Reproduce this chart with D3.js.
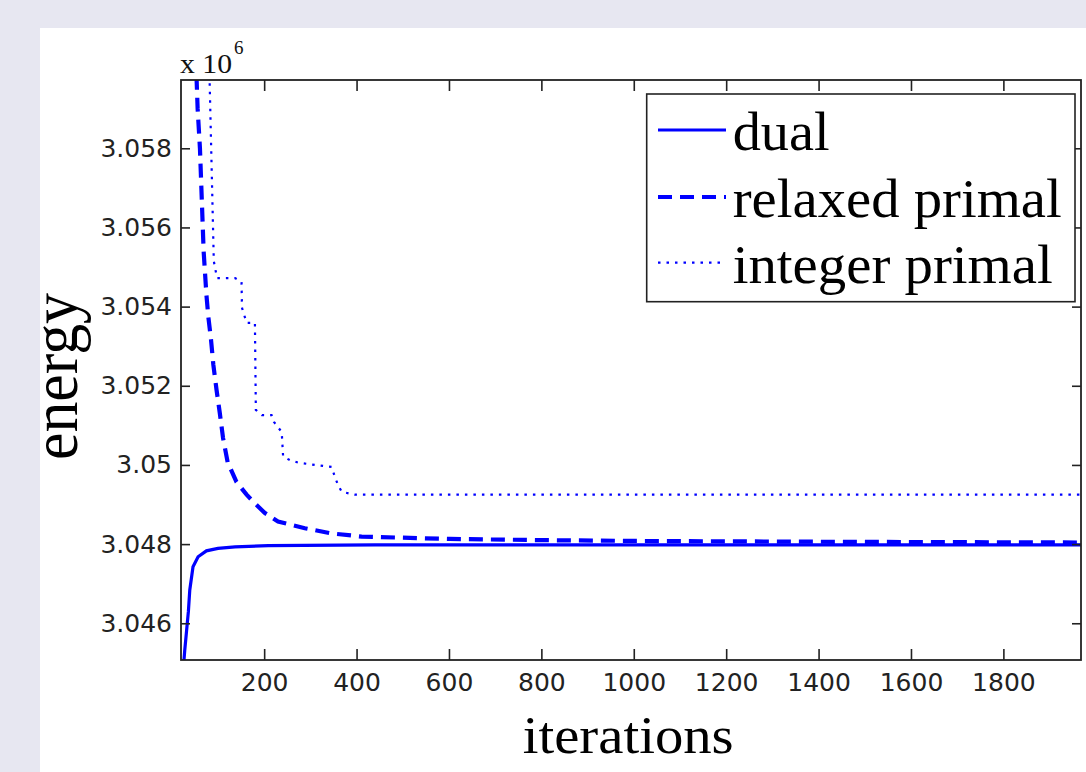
<!DOCTYPE html>
<html>
<head>
<meta charset="utf-8">
<script src="https://d3js.org/d3.v7.min.js"></script>
<style>
    html, body { margin: 0; padding: 0; background: #e7e7f1; }
    svg { display: block; }
</style>
</head>
<body>
<div id="chart"></div>
<script>
// values are in units of 1e6 (the axis shows "x 10^6")
const dualIter = [22, 24, 28, 32, 36, 39, 46, 57, 75, 100, 137, 209, 440, 1000, 1968];
const dualEnergy = [3.0440, 3.0447, 3.0453, 3.0458, 3.0463, 3.04684, 3.04743, 3.04768, 3.04783, 3.04789, 3.04793, 3.04796, 3.04798, 3.04798, 3.04798];

const relaxedIter = [50, 53, 56, 61, 65, 69, 75, 79, 85, 90, 97, 104, 111, 121, 140, 162, 180, 201, 230, 288, 346, 411, 602, 800, 1000, 1400, 1968];
const relaxedEnergy = [3.0615, 3.0600, 3.0590, 3.0580, 3.0567, 3.0554, 3.0543, 3.05376, 3.05316, 3.05253, 3.05189, 3.05131, 3.05068, 3.05007, 3.04957, 3.04925, 3.04903, 3.04879, 3.04857, 3.0484, 3.04827, 3.04819, 3.04813, 3.0481, 3.04808, 3.04806, 3.04804];

const integerIter = [80, 82, 91, 98, 137, 151, 152, 162, 180, 182, 195, 216, 221, 238, 241, 256, 273, 310, 346, 353, 360, 368, 396, 1968];
const integerEnergy = [3.0605, 3.05968, 3.05515, 3.05472, 3.05472, 3.05463, 3.05397, 3.05359, 3.05359, 3.05139, 3.05126, 3.05126, 3.05109, 3.05083, 3.05021, 3.05012, 3.05006, 3.05, 3.04995, 3.0497, 3.04949, 3.04932, 3.04925, 3.04925];

const xTicks = [200, 400, 600, 800, 1000, 1200, 1400, 1600, 1800];
const yTicks = [3.046, 3.048, 3.05, 3.052, 3.054, 3.056, 3.058];
const yTickLabels = ['3.046', '3.048', '3.05', '3.052', '3.054', '3.056', '3.058'];
const legendLabels = ['dual', 'relaxed primal', 'integer primal'];

(function () {
    let width = 1086, height = 772,
        margins = { left: 181, right: 5, top: 80, bottom: 112 },
        domainWidth = width - margins.left - margins.right,
        domainHeight = height - margins.top - margins.bottom,
        blue = '#0000ff';

    let svg = d3.select('#chart').append('svg')
        .attr('width', width).attr('height', height);

    // white figure panel
    svg.append('rect')
        .attr('x', 40).attr('y', 28)
        .attr('width', width - 40).attr('height', height - 28)
        .attr('fill', '#fff');

    let x = d3.scaleLinear().domain([20, 1968]).range([0, domainWidth]);
    let y = d3.scaleLinear().domain([3.045072, 3.059725]).range([domainHeight, 0]);

    let g = svg.append('g')
        .attr('transform', 'translate(' + margins.left + ',' + margins.top + ')');

    g.append('clipPath').attr('id', 'plot-clip')
        .append('rect').attr('width', domainWidth).attr('height', domainHeight);

    let series = [
        { name: legendLabels[0], it: dualIter, e: dualEnergy, w: 3.2, dash: null },
        { name: legendLabels[1], it: relaxedIter, e: relaxedEnergy, w: 4.2, dash: '14,8' },
        { name: legendLabels[2], it: integerIter, e: integerEnergy, w: 2.2, dash: '2.5,6' }
    ];

    let line = d3.line()
        .x(function (d) { return x(d[0]); })
        .y(function (d) { return y(d[1]); });

    let lines = g.append('g').attr('clip-path', 'url(#plot-clip)');
    series.forEach(function (s) {
        lines.append('path')
            .datum(d3.zip(s.it, s.e))
            .attr('d', line)
            .attr('fill', 'none')
            .attr('stroke', blue)
            .attr('stroke-width', s.w)
            .attr('stroke-dasharray', s.dash);
    });

    function styleAxis(sel) {
        sel.select('.domain').remove();
        sel.selectAll('line').attr('stroke', '#222').attr('stroke-width', 1.6);
        sel.selectAll('text')
            .attr('font-family', '"DejaVu Sans", sans-serif')
            .attr('font-size', 25)
            .attr('fill', '#222');
    }

    g.append('g')
        .attr('transform', 'translate(0,' + domainHeight + ')')
        .call(d3.axisBottom(x).tickValues(xTicks).tickSize(-11).tickPadding(13).tickFormat(d3.format('d')))
        .call(styleAxis);

    g.append('g')
        .call(d3.axisTop(x).tickValues(xTicks).tickSize(-11).tickFormat(''))
        .call(styleAxis);

    g.append('g')
        .call(d3.axisLeft(y).tickValues(yTicks).tickSize(-9).tickPadding(9)
            .tickFormat(function (d, i) { return yTickLabels[i]; }))
        .call(styleAxis);

    g.append('g')
        .attr('transform', 'translate(' + domainWidth + ',0)')
        .call(d3.axisRight(y).tickValues(yTicks).tickSize(-9).tickFormat(''))
        .call(styleAxis);

    // axes frame
    g.append('rect')
        .attr('width', domainWidth).attr('height', domainHeight)
        .attr('fill', 'none').attr('stroke', '#222').attr('stroke-width', 1.8);

    // exponent label
    let serif = '"Liberation Serif", "Times New Roman", serif';
    svg.append('text')
        .attr('x', 180).attr('y', 73)
        .attr('font-family', serif).attr('font-size', 27)
        .attr('textLength', 52).attr('lengthAdjust', 'spacingAndGlyphs')
        .attr('fill', '#111')
        .text('x 10');
    svg.append('text')
        .attr('x', 234).attr('y', 54)
        .attr('font-family', serif).attr('font-size', 19)
        .attr('fill', '#111')
        .text('6');

    // axis titles
    svg.append('text')
        .attr('x', 522.7).attr('y', 752.7)
        .attr('font-family', serif).attr('font-size', 52)
        .attr('textLength', 211).attr('lengthAdjust', 'spacingAndGlyphs')
        .text('iterations');

    svg.append('text')
        .attr('transform', 'translate(77,376.5) rotate(-90)')
        .attr('text-anchor', 'middle')
        .attr('font-family', serif).attr('font-size', 66)
        .attr('textLength', 167).attr('lengthAdjust', 'spacingAndGlyphs')
        .text('energy');

    // legend
    let legend = svg.append('g');
    legend.append('rect')
        .attr('x', 646.7).attr('y', 94)
        .attr('width', 1075 - 646.7).attr('height', 301.7 - 94)
        .attr('fill', '#fff').attr('stroke', '#222').attr('stroke-width', 1.6);

    let rowLine = [130, 197, 262.7], rowText = [150, 217, 282.7], textLen = [97, 329, 320];
    series.forEach(function (s, i) {
        legend.append('line')
            .attr('x1', 658).attr('x2', 726)
            .attr('y1', rowLine[i]).attr('y2', rowLine[i])
            .attr('stroke', blue)
            .attr('stroke-width', s.w)
            .attr('stroke-dasharray', s.dash);
        legend.append('text')
            .attr('x', 732.7).attr('y', rowText[i])
            .attr('font-family', serif).attr('font-size', 54)
            .attr('textLength', textLen[i]).attr('lengthAdjust', 'spacingAndGlyphs')
            .text(s.name);
    });
})();
</script>
</body>
</html>
